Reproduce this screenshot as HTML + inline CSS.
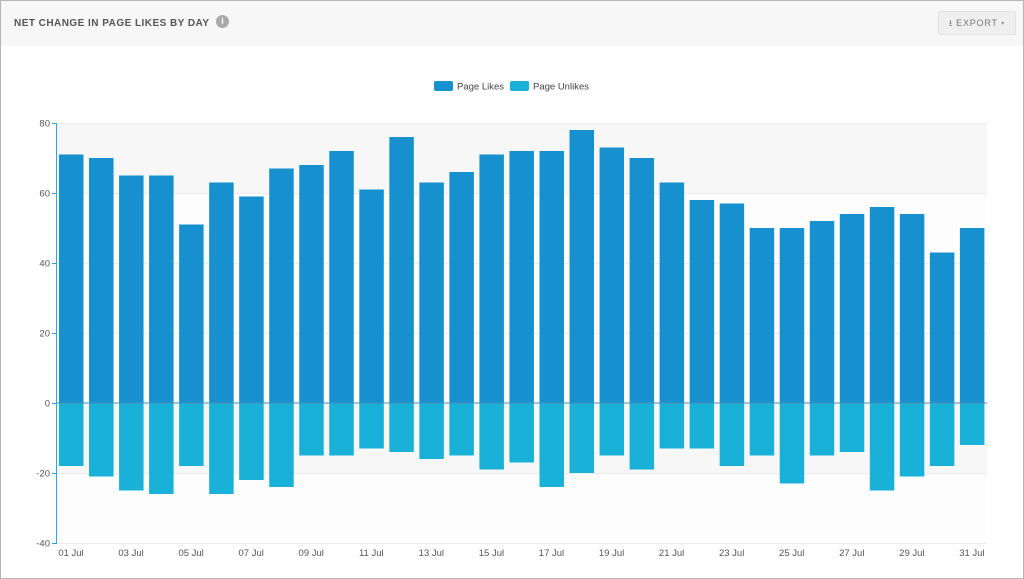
<!DOCTYPE html>
<html><head><style>
body{margin:0;width:1024px;height:579px;overflow:hidden;font-family:"Liberation Sans",sans-serif;background:#fff}
.frame{position:absolute;left:0;top:0;width:1022px;height:577px;border:1px solid #b5b5b5;background:#fff}
.hdr{position:absolute;left:0;top:0;width:1022px;height:45px;background:#f7f7f7}
.info{position:absolute;left:215px;top:14px;width:13px;height:13px;border-radius:50%;background:#aaa;color:#fff;font-size:9px;text-align:center;line-height:13px;font-weight:bold}
.exp{position:absolute;left:937px;top:10px;width:76px;height:22px;background:#efefef;border:1px solid #e2e2e2;border-radius:2px;font-size:9px;color:#777;letter-spacing:.8px;line-height:22px;text-align:center}
</style></head><body>
<div class="frame">
<div class="hdr"><div class="info">i</div><div class="exp">⭳ EXPORT ▾</div></div>
</div>
<svg id="s" width="1024" height="579" style="position:absolute;left:0;top:0" font-family="Liberation Sans, sans-serif"></svg>
<script>
var L=[71,70,65,65,51,63,59,67,68,72,61,76,63,66,71,72,72,78,73,70,63,58,57,50,50,52,54,56,54,43,50];
var U=[18,21,25,26,18,26,22,24,15,15,13,14,16,15,19,17,24,20,15,19,13,13,18,15,23,15,14,25,21,18,12];
var y=v=>403-v*3.5,h='';
h+=`<text x="14" y="26" font-size="10" font-weight="bold" fill="#555" textLength="195" lengthAdjust="spacing">NET CHANGE IN PAGE LIKES BY DAY</text>`;
var bands=[[80,60,'#f7f7f7'],[60,40,'#fdfdfd'],[40,20,'#fdfdfd'],[20,0,'#fdfdfd'],[0,-20,'#f7f7f7'],[-20,-40,'#fdfdfd']];
bands.forEach(b=>h+=`<rect x="57" y="${y(b[0])}" width="930" height="70" fill="${b[2]}"/>`);
[80,60,40,20,-20,-40].forEach(v=>{h+=`<line x1="57" x2="987" y1="${y(v)+.5}" y2="${y(v)+.5}" stroke="#ececec"/>`;});
[80,60,40,20,0,-20,-40].forEach(v=>{h+=`<text x="50" y="${y(v)+3.5}" font-size="9.5" fill="#555" text-anchor="end">${v}</text><line x1="52" x2="57" y1="${y(v)+.5}" y2="${y(v)+.5}" stroke="#29a9e0"/>`;});
for(var i=0;i<31;i++){var x=56+i*30.03+3;
h+=`<rect x="${x}" y="${y(L[i])}" width="24.5" height="${L[i]*3.5}" fill="#1790d0"/>`;
h+=`<rect x="${x}" y="403" width="24.5" height="${U[i]*3.5}" fill="#1ab1d8"/>`;
if(i%2==0){var d=(i+1<10?'0':'')+(i+1);h+=`<text x="${x+12}" y="556" font-size="9.5" fill="#555" text-anchor="middle">${d} Jul</text>`;}}
h+=`<line x1="57" x2="987" y1="403" y2="403" stroke="#4a8fb8"/><line x1="56.5" x2="56.5" y1="123" y2="543" stroke="#29a9e0"/>`;
h+=`<rect x="434" y="81" width="19" height="10" rx="2" fill="#1790d0"/><text x="457" y="89.5" font-size="9.5" fill="#444">Page Likes</text>`;
h+=`<rect x="510" y="81" width="19" height="10" rx="2" fill="#1ab1d8"/><text x="533" y="89.5" font-size="9.5" fill="#444">Page Unlikes</text>`;
document.getElementById('s').innerHTML=h;
</script>
</body></html>
